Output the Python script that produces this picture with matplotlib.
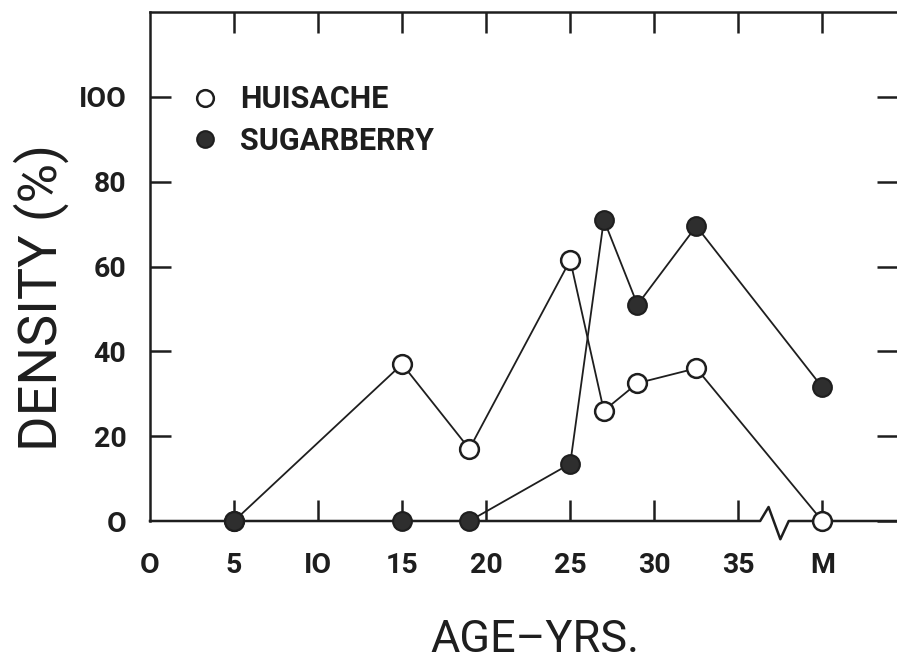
import matplotlib
matplotlib.use("Agg")
import matplotlib.pyplot as plt
from matplotlib.lines import Line2D

# Data
age_x = [5, 15, 19, 25, 27, 29, 32.5, 40]
huisache = [0, 37, 17, 61.5, 26, 32.5, 36, 0]
sugarberry = [0, 0, 0, 13.5, 71, 51, 69.5, 31.5]
xtick_pos = [0, 5, 10, 15, 20, 25, 30, 35, 40]
xtick_labels = ["O", "5", "IO", "15", "20", "25", "30", "35", "M"]
ytick_pos = [0, 20, 40, 60, 80, 100]
ytick_labels = ["O", "20", "40", "60", "80", "IOO"]

INK = "#1e1e1e"
fig = plt.figure(figsize=(8.97, 6.65), dpi=100)
ax = fig.add_axes([150/897, 144/665, 748/897, 509/665])
ax.set_xlim(0, 44.5)
ax.set_ylim(0, 120)

ax.plot(age_x, huisache, color=INK, lw=1.3, marker="o", ms=13.5,
        mfc="white", mec=INK, mew=1.8, clip_on=False, zorder=3)
ax.plot(age_x, sugarberry, color=INK, lw=1.3, marker="o", ms=13.5,
        mfc="#2e2e2e", mec=INK, mew=1.5, clip_on=False, zorder=4)

for s in ["left", "top", "right"]:
    ax.spines[s].set_linewidth(1.8)
    ax.spines[s].set_color(INK)
ax.spines["bottom"].set_visible(False)

# x axis line with break symbol
bx = [0, 36.3, 36.8, 37.5, 38.0, 44.5]
by = [0, 0, 3.3, -4.3, 0, 0]
ax.plot(bx, by, color=INK, lw=1.8, clip_on=False, zorder=2)

tick_font = dict(family="Roboto", weight="bold", size=20.5)
ax.set_xticks(xtick_pos)
ax.set_xticklabels(xtick_labels, **tick_font, color=INK)
ax.set_yticks(ytick_pos)
ax.set_yticklabels(ytick_labels, **tick_font, color=INK)
ax.tick_params(axis="both", direction="in", length=15, width=1.8, color=INK,
               top=True, right=True)
ax.tick_params(axis="x", pad=22)
ax.tick_params(axis="y", pad=17)
ax.xaxis.get_major_ticks()[0].tick1line.set_visible(False)
ax.xaxis.get_major_ticks()[0].tick2line.set_visible(False)
ax.yaxis.get_major_ticks()[0].tick1line.set_visible(False)

ax.set_ylabel("DENSITY (%)", family="Roboto", weight="normal", size=39, color=INK)
ax.yaxis.set_label_coords(-0.108, 0.44)
fig.text(535/897, 1-640/665, "AGE\u2013YRS.", family=["Roboto", "DejaVu Sans"],
         weight="normal", size=32.5, color=INK, ha="center", va="center")

handles = [Line2D([], [], ls="none", marker="o", ms=12, mfc="white", mec=INK, mew=1.8),
           Line2D([], [], ls="none", marker="o", ms=12, mfc="#2e2e2e", mec=INK, mew=1.5)]
leg = ax.legend(handles, ["HUISACHE", "SUGARBERRY"], loc="upper left",
                bbox_to_anchor=(0.012, 0.912), frameon=False, handletextpad=0.55,
                handlelength=1.2, labelspacing=0.38,
                prop=dict(family="Roboto", weight="bold", size=22))
for t in leg.get_texts():
    t.set_color(INK)

fig.savefig("out.png", dpi=100)
